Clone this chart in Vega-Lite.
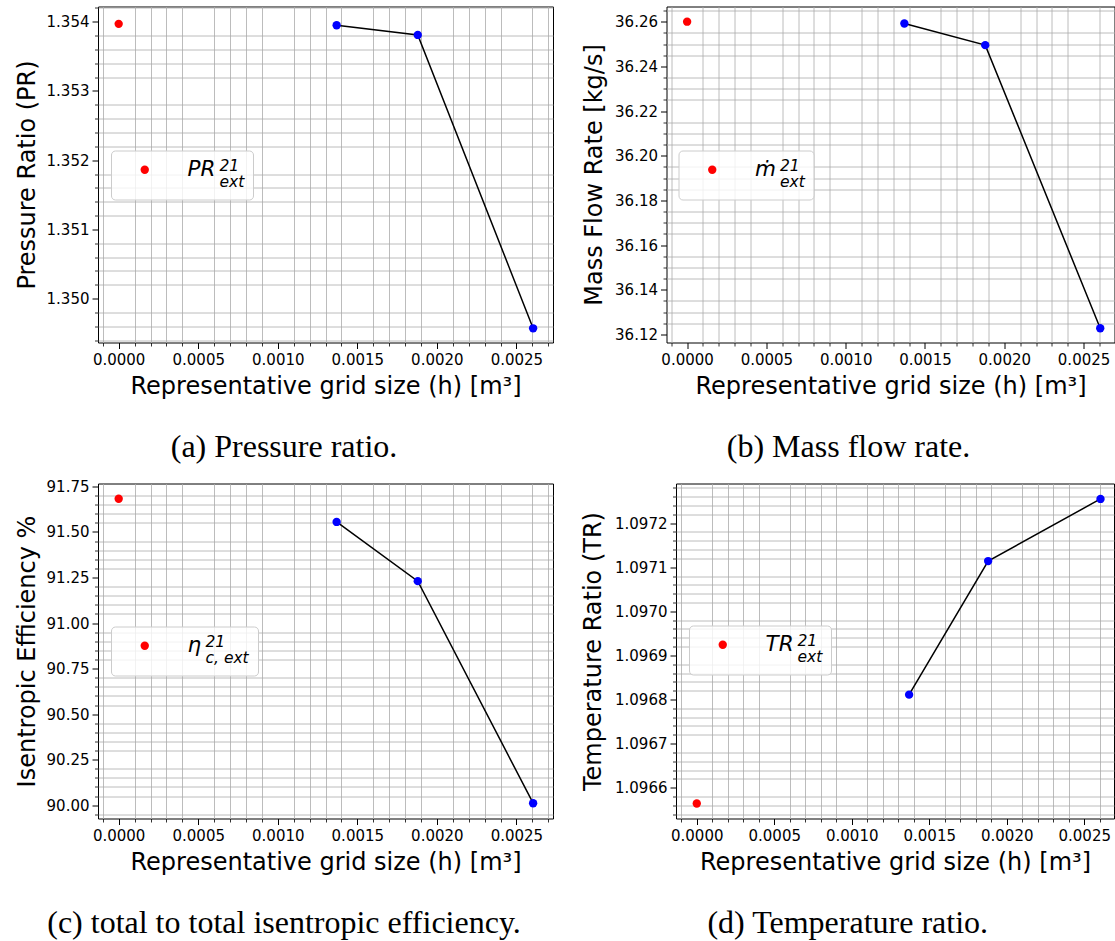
{
  "$schema": "https://vega.github.io/schema/vega-lite/v6.json",
  "background": "white",
  "padding": {"left": 14, "top": 5.5, "right": 0, "bottom": 0},
  "config": {
    "view": {"stroke": "black", "strokeWidth": 1},
    "axis": {"domain": false, "labelFont": "DejaVu Sans", "labelFontSize": 15, "labelColor": "black", "labelFlush": false, "labelOverlap": false, "tickColor": "black", "titleFont": "DejaVu Sans", "titleFontSize": 24, "titleFontWeight": "normal", "titleColor": "black", "grid": true, "gridOpacity": 1},
    "legend": {"orient": "none", "titleOrient": "right", "titleAnchor": "start", "titleBaseline": "top", "titleFont": "DejaVu Sans", "titleFontSize": 15.5, "titleFontStyle": "italic", "titleFontWeight": "normal", "titleColor": "black", "titleLineHeight": 16, "titlePadding": 4, "labelFont": "DejaVu Sans", "labelFontSize": 21.5, "labelFontStyle": "italic", "labelColor": "black", "labelOffset": 32, "symbolOffset": 14.5, "symbolSize": 70, "symbolType": "circle", "padding": 8.5, "fillColor": "rgba(255,255,255,0.8)", "strokeColor": "#cccccc", "cornerRadius": 4},
    "title": {"font": "Liberation Serif", "fontSize": 32, "fontWeight": "normal", "color": "black", "orient": "bottom", "anchor": "middle", "frame": "bounds", "offset": 33}
  },
  "spacing": 15,
  "resolve": {"scale": {"color": "independent"}, "legend": {"color": "independent"}},
  "vconcat": [
    {
      "spacing": 113.5,
      "bounds": "flush",
      "resolve": {"scale": {"color": "independent"}, "legend": {"color": "independent"}},
      "hconcat": [
        {
          "width": 455, "height": 336,
          "title": {"text": "(a) Pressure ratio."},
          "data": {"values": [
            {"h": 0, "v": 1.35397, "kind": "ext", "name": "PR"},
            {"h": 0.00137, "v": 1.35395, "kind": "grid"},
            {"h": 0.00188, "v": 1.35381, "kind": "grid"},
            {"h": 0.002605, "v": 1.34957, "kind": "grid"}
          ]},
          "resolve": {"axis": {"x": "independent", "y": "independent"}},
          "layer": [
            {
              "transform": [{"filter": "datum.kind === 'grid'"}],
              "mark": {"type": "line", "color": "black", "strokeWidth": 1.5},
              "encoding": {
                "x": {"field": "h", "type": "quantitative", "scale": {"domain": [-0.00013, 0.00273], "nice": false, "zero": false},
                  "axis": {"orient": "bottom", "values": [-0.0001, 0.0001, 0.0002, 0.0003, 0.0004, 0.0006, 0.0007, 0.0008, 0.0009, 0.0011, 0.0012, 0.0013, 0.0014, 0.0016, 0.0017, 0.0018, 0.0019, 0.0021, 0.0022, 0.0023, 0.0024, 0.0026, 0.0027], "labels": false, "tickSize": 3.5, "tickWidth": 0.8, "gridColor": "#ababab", "gridWidth": 0.8, "title": null}},
                "y": {"field": "v", "type": "quantitative", "scale": {"domain": [1.349365, 1.354221], "nice": false, "zero": false},
                  "axis": {"orient": "left", "values": [1.3494, 1.3496, 1.3498, 1.3502, 1.3504, 1.3506, 1.3508, 1.3512, 1.3514, 1.3516, 1.3518, 1.3522, 1.3524, 1.3526, 1.3528, 1.3532, 1.3534, 1.3536, 1.3538, 1.3542], "labels": false, "tickSize": 3.5, "tickWidth": 0.8, "gridColor": "#ababab", "gridWidth": 0.8, "title": null}}
              }
            },
            {
              "transform": [{"filter": "datum.kind === 'grid'"}],
              "mark": {"type": "point", "filled": true, "color": "blue", "opacity": 1, "size": 70},
              "encoding": {
                "x": {"field": "h", "type": "quantitative", "scale": {"domain": [-0.00013, 0.00273], "nice": false, "zero": false},
                  "axis": {"orient": "bottom", "values": [0, 0.0005, 0.001, 0.0015, 0.002, 0.0025], "format": ".4f", "tickSize": 6, "tickWidth": 1, "gridColor": "#d3d3d3", "gridWidth": 1.6, "labelPadding": 4, "title": "Representative grid size (h) [m³]", "titlePadding": 7}},
                "y": {"field": "v", "type": "quantitative", "scale": {"domain": [1.349365, 1.354221], "nice": false, "zero": false},
                  "axis": {"orient": "left", "values": [1.35, 1.351, 1.352, 1.353, 1.354], "format": ".3f", "tickSize": 6, "tickWidth": 1, "gridColor": "#d3d3d3", "gridWidth": 1.6, "labelPadding": 3, "title": "Pressure Ratio (PR)", "titlePadding": 7}}
              }
            },
            {
              "transform": [{"filter": "datum.kind === 'ext'"}],
              "mark": {"type": "point", "filled": true, "opacity": 1, "size": 70},
              "encoding": {
                "x": {"field": "h", "type": "quantitative", "scale": {"domain": [-0.00013, 0.00273], "nice": false, "zero": false}, "axis": null},
                "y": {"field": "v", "type": "quantitative", "scale": {"domain": [1.349365, 1.354221], "nice": false, "zero": false}, "axis": null},
                "color": {"field": "name", "type": "nominal", "scale": {"range": ["red"]}, "legend": {"title": ["21", "ext"], "legendX": 13, "legendY": 144}}
              }
            }
          ]
        },
        {
          "width": 448, "height": 336,
          "title": {"text": "(b) Mass flow rate."},
          "data": {"values": [
            {"h": 0, "v": 36.26, "kind": "ext", "name": "ṁ"},
            {"h": 0.00137, "v": 36.2592, "kind": "grid"},
            {"h": 0.00188, "v": 36.2495, "kind": "grid"},
            {"h": 0.002605, "v": 36.1228, "kind": "grid"}
          ]},
          "resolve": {"axis": {"x": "independent", "y": "independent"}},
          "layer": [
            {
              "transform": [{"filter": "datum.kind === 'grid'"}],
              "mark": {"type": "line", "color": "black", "strokeWidth": 1.5},
              "encoding": {
                "x": {"field": "h", "type": "quantitative", "scale": {"domain": [-0.00013, 0.002695], "nice": false, "zero": false},
                  "axis": {"orient": "bottom", "values": [-0.0001, 0.0001, 0.0002, 0.0003, 0.0004, 0.0006, 0.0007, 0.0008, 0.0009, 0.0011, 0.0012, 0.0013, 0.0014, 0.0016, 0.0017, 0.0018, 0.0019, 0.0021, 0.0022, 0.0023, 0.0024, 0.0026], "labels": false, "tickSize": 3.5, "tickWidth": 0.8, "gridColor": "#ababab", "gridWidth": 0.8, "title": null}},
                "y": {"field": "v", "type": "quantitative", "scale": {"domain": [36.1164, 36.2668], "nice": false, "zero": false},
                  "axis": {"orient": "left", "values": [36.125, 36.13, 36.135, 36.145, 36.15, 36.155, 36.165, 36.17, 36.175, 36.185, 36.19, 36.195, 36.205, 36.21, 36.215, 36.225, 36.23, 36.235, 36.245, 36.25, 36.255, 36.265], "labels": false, "tickSize": 3.5, "tickWidth": 0.8, "gridColor": "#ababab", "gridWidth": 0.8, "title": null}}
              }
            },
            {
              "transform": [{"filter": "datum.kind === 'grid'"}],
              "mark": {"type": "point", "filled": true, "color": "blue", "opacity": 1, "size": 70},
              "encoding": {
                "x": {"field": "h", "type": "quantitative", "scale": {"domain": [-0.00013, 0.002695], "nice": false, "zero": false},
                  "axis": {"orient": "bottom", "values": [0, 0.0005, 0.001, 0.0015, 0.002, 0.0025], "format": ".4f", "tickSize": 6, "tickWidth": 1, "gridColor": "#d3d3d3", "gridWidth": 1.6, "labelPadding": 4, "title": "Representative grid size (h) [m³]", "titlePadding": 7}},
                "y": {"field": "v", "type": "quantitative", "scale": {"domain": [36.1164, 36.2668], "nice": false, "zero": false},
                  "axis": {"orient": "left", "values": [36.12, 36.14, 36.16, 36.18, 36.2, 36.22, 36.24, 36.26], "format": ".2f", "tickSize": 6, "tickWidth": 1, "gridColor": "#d3d3d3", "gridWidth": 1.6, "labelPadding": 3, "title": "Mass Flow Rate [kg/s]", "titlePadding": 8}}
              }
            },
            {
              "transform": [{"filter": "datum.kind === 'ext'"}],
              "mark": {"type": "point", "filled": true, "opacity": 1, "size": 70},
              "encoding": {
                "x": {"field": "h", "type": "quantitative", "scale": {"domain": [-0.00013, 0.002695], "nice": false, "zero": false}, "axis": null},
                "y": {"field": "v", "type": "quantitative", "scale": {"domain": [36.1164, 36.2668], "nice": false, "zero": false}, "axis": null},
                "color": {"field": "name", "type": "nominal", "scale": {"range": ["red"]}, "legend": {"title": ["21", "ext"], "legendX": 12, "legendY": 144}}
              }
            }
          ]
        }
      ]
    },
    {
      "spacing": 123,
      "bounds": "flush",
      "resolve": {"scale": {"color": "independent"}, "legend": {"color": "independent"}},
      "hconcat": [
        {
          "width": 455, "height": 335,
          "title": {"text": "(c) total to total isentropic efficiency."},
          "data": {"values": [
            {"h": 0, "v": 91.682, "kind": "ext", "name": "η"},
            {"h": 0.00137, "v": 91.555, "kind": "grid"},
            {"h": 0.00188, "v": 91.23, "kind": "grid"},
            {"h": 0.002605, "v": 90.011, "kind": "grid"}
          ]},
          "resolve": {"axis": {"x": "independent", "y": "independent"}},
          "layer": [
            {
              "transform": [{"filter": "datum.kind === 'grid'"}],
              "mark": {"type": "line", "color": "black", "strokeWidth": 1.5},
              "encoding": {
                "x": {"field": "h", "type": "quantitative", "scale": {"domain": [-0.00013, 0.00273], "nice": false, "zero": false},
                  "axis": {"orient": "bottom", "values": [-0.0001, 0.0001, 0.0002, 0.0003, 0.0004, 0.0006, 0.0007, 0.0008, 0.0009, 0.0011, 0.0012, 0.0013, 0.0014, 0.0016, 0.0017, 0.0018, 0.0019, 0.0021, 0.0022, 0.0023, 0.0024, 0.0026, 0.0027], "labels": false, "tickSize": 3.5, "tickWidth": 0.8, "gridColor": "#ababab", "gridWidth": 0.8, "title": null}},
                "y": {"field": "v", "type": "quantitative", "scale": {"domain": [89.927, 91.766], "nice": false, "zero": false},
                  "axis": {"orient": "left", "values": [89.95, 90.05, 90.1, 90.15, 90.2, 90.3, 90.35, 90.4, 90.45, 90.55, 90.6, 90.65, 90.7, 90.8, 90.85, 90.9, 90.95, 91.05, 91.1, 91.15, 91.2, 91.3, 91.35, 91.4, 91.45, 91.55, 91.6, 91.65, 91.7], "labels": false, "tickSize": 3.5, "tickWidth": 0.8, "gridColor": "#ababab", "gridWidth": 0.8, "title": null}}
              }
            },
            {
              "transform": [{"filter": "datum.kind === 'grid'"}],
              "mark": {"type": "point", "filled": true, "color": "blue", "opacity": 1, "size": 70},
              "encoding": {
                "x": {"field": "h", "type": "quantitative", "scale": {"domain": [-0.00013, 0.00273], "nice": false, "zero": false},
                  "axis": {"orient": "bottom", "values": [0, 0.0005, 0.001, 0.0015, 0.002, 0.0025], "format": ".4f", "tickSize": 6, "tickWidth": 1, "gridColor": "#d3d3d3", "gridWidth": 1.6, "labelPadding": 4, "title": "Representative grid size (h) [m³]", "titlePadding": 7}},
                "y": {"field": "v", "type": "quantitative", "scale": {"domain": [89.927, 91.766], "nice": false, "zero": false},
                  "axis": {"orient": "left", "values": [90, 90.25, 90.5, 90.75, 91, 91.25, 91.5, 91.75], "format": ".2f", "tickSize": 6, "tickWidth": 1, "gridColor": "#d3d3d3", "gridWidth": 1.6, "labelPadding": 3, "title": "Isentropic Efficiency %", "titlePadding": 7}}
              }
            },
            {
              "transform": [{"filter": "datum.kind === 'ext'"}],
              "mark": {"type": "point", "filled": true, "opacity": 1, "size": 70},
              "encoding": {
                "x": {"field": "h", "type": "quantitative", "scale": {"domain": [-0.00013, 0.00273], "nice": false, "zero": false}, "axis": null},
                "y": {"field": "v", "type": "quantitative", "scale": {"domain": [89.927, 91.766], "nice": false, "zero": false}, "axis": null},
                "color": {"field": "name", "type": "nominal", "scale": {"range": ["red"]}, "legend": {"title": ["21", "c, ext"], "legendX": 13, "legendY": 143}}
              }
            }
          ]
        },
        {
          "width": 438, "height": 335,
          "title": {"text": "(d) Temperature ratio."},
          "data": {"values": [
            {"h": 0, "v": 1.096564, "kind": "ext", "name": "TR"},
            {"h": 0.00137, "v": 1.096811, "kind": "grid"},
            {"h": 0.00188, "v": 1.097114, "kind": "grid"},
            {"h": 0.002605, "v": 1.097255, "kind": "grid"}
          ]},
          "resolve": {"axis": {"x": "independent", "y": "independent"}},
          "layer": [
            {
              "transform": [{"filter": "datum.kind === 'grid'"}],
              "mark": {"type": "line", "color": "black", "strokeWidth": 1.5},
              "encoding": {
                "x": {"field": "h", "type": "quantitative", "scale": {"domain": [-0.000134, 0.002692], "nice": false, "zero": false},
                  "axis": {"orient": "bottom", "values": [-0.0001, 0.0001, 0.0002, 0.0003, 0.0004, 0.0006, 0.0007, 0.0008, 0.0009, 0.0011, 0.0012, 0.0013, 0.0014, 0.0016, 0.0017, 0.0018, 0.0019, 0.0021, 0.0022, 0.0023, 0.0024, 0.0026], "labels": false, "tickSize": 3.5, "tickWidth": 0.8, "gridColor": "#ababab", "gridWidth": 0.8, "title": null}},
                "y": {"field": "v", "type": "quantitative", "scale": {"domain": [1.09653, 1.09729], "nice": false, "zero": false},
                  "axis": {"orient": "left", "values": [1.09654, 1.09656, 1.09658, 1.09662, 1.09664, 1.09666, 1.09668, 1.09672, 1.09674, 1.09676, 1.09678, 1.09682, 1.09684, 1.09686, 1.09688, 1.09692, 1.09694, 1.09696, 1.09698, 1.09702, 1.09704, 1.09706, 1.09708, 1.09712, 1.09714, 1.09716, 1.09718, 1.09722, 1.09724, 1.09726, 1.09728], "labels": false, "tickSize": 3.5, "tickWidth": 0.8, "gridColor": "#ababab", "gridWidth": 0.8, "title": null}}
              }
            },
            {
              "transform": [{"filter": "datum.kind === 'grid'"}],
              "mark": {"type": "point", "filled": true, "color": "blue", "opacity": 1, "size": 70},
              "encoding": {
                "x": {"field": "h", "type": "quantitative", "scale": {"domain": [-0.000134, 0.002692], "nice": false, "zero": false},
                  "axis": {"orient": "bottom", "values": [0, 0.0005, 0.001, 0.0015, 0.002, 0.0025], "format": ".4f", "tickSize": 6, "tickWidth": 1, "gridColor": "#d3d3d3", "gridWidth": 1.6, "labelPadding": 4, "title": "Representative grid size (h) [m³]", "titlePadding": 7}},
                "y": {"field": "v", "type": "quantitative", "scale": {"domain": [1.09653, 1.09729], "nice": false, "zero": false},
                  "axis": {"orient": "left", "values": [1.0966, 1.0967, 1.0968, 1.0969, 1.097, 1.0971, 1.0972], "format": ".4f", "tickSize": 6, "tickWidth": 1, "gridColor": "#d3d3d3", "gridWidth": 1.6, "labelPadding": 3, "title": "Temperature Ratio (TR)", "titlePadding": 9}}
              }
            },
            {
              "transform": [{"filter": "datum.kind === 'ext'"}],
              "mark": {"type": "point", "filled": true, "opacity": 1, "size": 70},
              "encoding": {
                "x": {"field": "h", "type": "quantitative", "scale": {"domain": [-0.000134, 0.002692], "nice": false, "zero": false}, "axis": null},
                "y": {"field": "v", "type": "quantitative", "scale": {"domain": [1.09653, 1.09729], "nice": false, "zero": false}, "axis": null},
                "color": {"field": "name", "type": "nominal", "scale": {"range": ["red"]}, "legend": {"title": ["21", "ext"], "legendX": 13, "legendY": 142}}
              }
            }
          ]
        }
      ]
    }
  ]
}
